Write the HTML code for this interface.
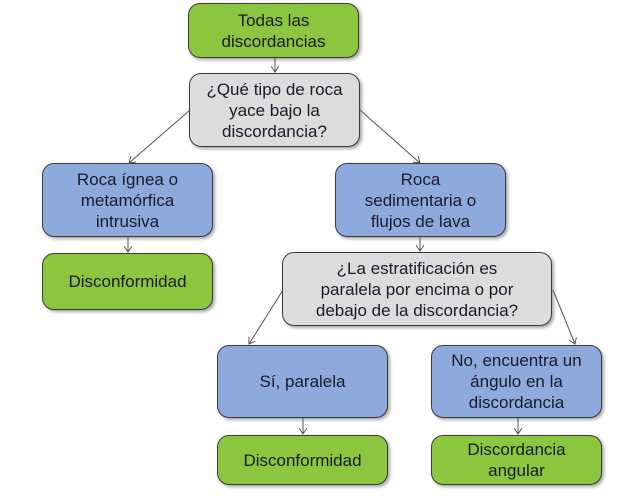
<!DOCTYPE html>
<html><head><meta charset="utf-8"><style>
body{margin:0;width:638px;height:499px;background:#fff;position:relative;overflow:hidden;font-family:"Liberation Sans",sans-serif;}
.b{position:absolute;box-sizing:border-box;border:1.5px solid #3a3a3a;border-radius:12px;display:flex;align-items:center;justify-content:center;text-align:center;font-size:17px;line-height:21px;color:#1a1a2a;box-shadow:2px 2px 3px rgba(0,0,0,.35);}
.g{background:#8cc63f}.y{background:#dcdcdc}.u{background:#8eaadc}
svg{position:absolute;left:0;top:0;z-index:5}
</style></head><body>
<div class="b g" style="left:188px;top:3px;width:171px;height:55px">Todas las<br>discordancias</div>
<div class="b y" style="left:189px;top:73px;width:171px;height:74px">¿Qué tipo de roca<br>yace bajo la<br>discordancia?</div>
<div class="b u" style="left:42px;top:163px;width:171px;height:74px">Roca ígnea o<br>metamórfica<br>intrusiva</div>
<div class="b u" style="left:335px;top:163px;width:171px;height:74px">Roca<br>sedimentaria o<br>flujos de lava</div>
<div class="b g" style="left:42px;top:253px;width:171px;height:57px">Disconformidad</div>
<div class="b y" style="left:282px;top:252px;width:270px;height:74px">¿La estratificación es<br>paralela por encima o por<br>debajo de la discordancia?</div>
<div class="b u" style="left:217px;top:345px;width:171px;height:73px">Sí, paralela</div>
<div class="b u" style="left:431px;top:345px;width:171px;height:73px">No, encuentra un<br>ángulo en la<br>discordancia</div>
<div class="b g" style="left:217px;top:435px;width:171px;height:50px">Disconformidad</div>
<div class="b g" style="left:431px;top:435px;width:171px;height:50px">Discordancia<br>angular</div>
<svg width="638" height="499"><defs><marker id="a" markerWidth="8" markerHeight="8" refX="6" refY="4" orient="auto" markerUnits="userSpaceOnUse"><path d="M0,0 L6,4 L0,8" fill="none" stroke="#555" stroke-width="1"/></marker></defs>
<g stroke="#555" stroke-width="1" marker-end="url(#a)">
<line x1="275" y1="58" x2="275" y2="72"/>
<line x1="190" y1="110" x2="129" y2="163"/>
<line x1="360" y1="110" x2="420" y2="163"/>
<line x1="128" y1="237" x2="128" y2="252"/>
<line x1="420" y1="237" x2="420" y2="251"/>
<line x1="283" y1="290" x2="249" y2="344"/>
<line x1="553" y1="290" x2="575" y2="344"/>
<line x1="303" y1="418" x2="303" y2="434"/>
<line x1="518" y1="418" x2="518" y2="434"/>
</g></svg>
</body></html>
